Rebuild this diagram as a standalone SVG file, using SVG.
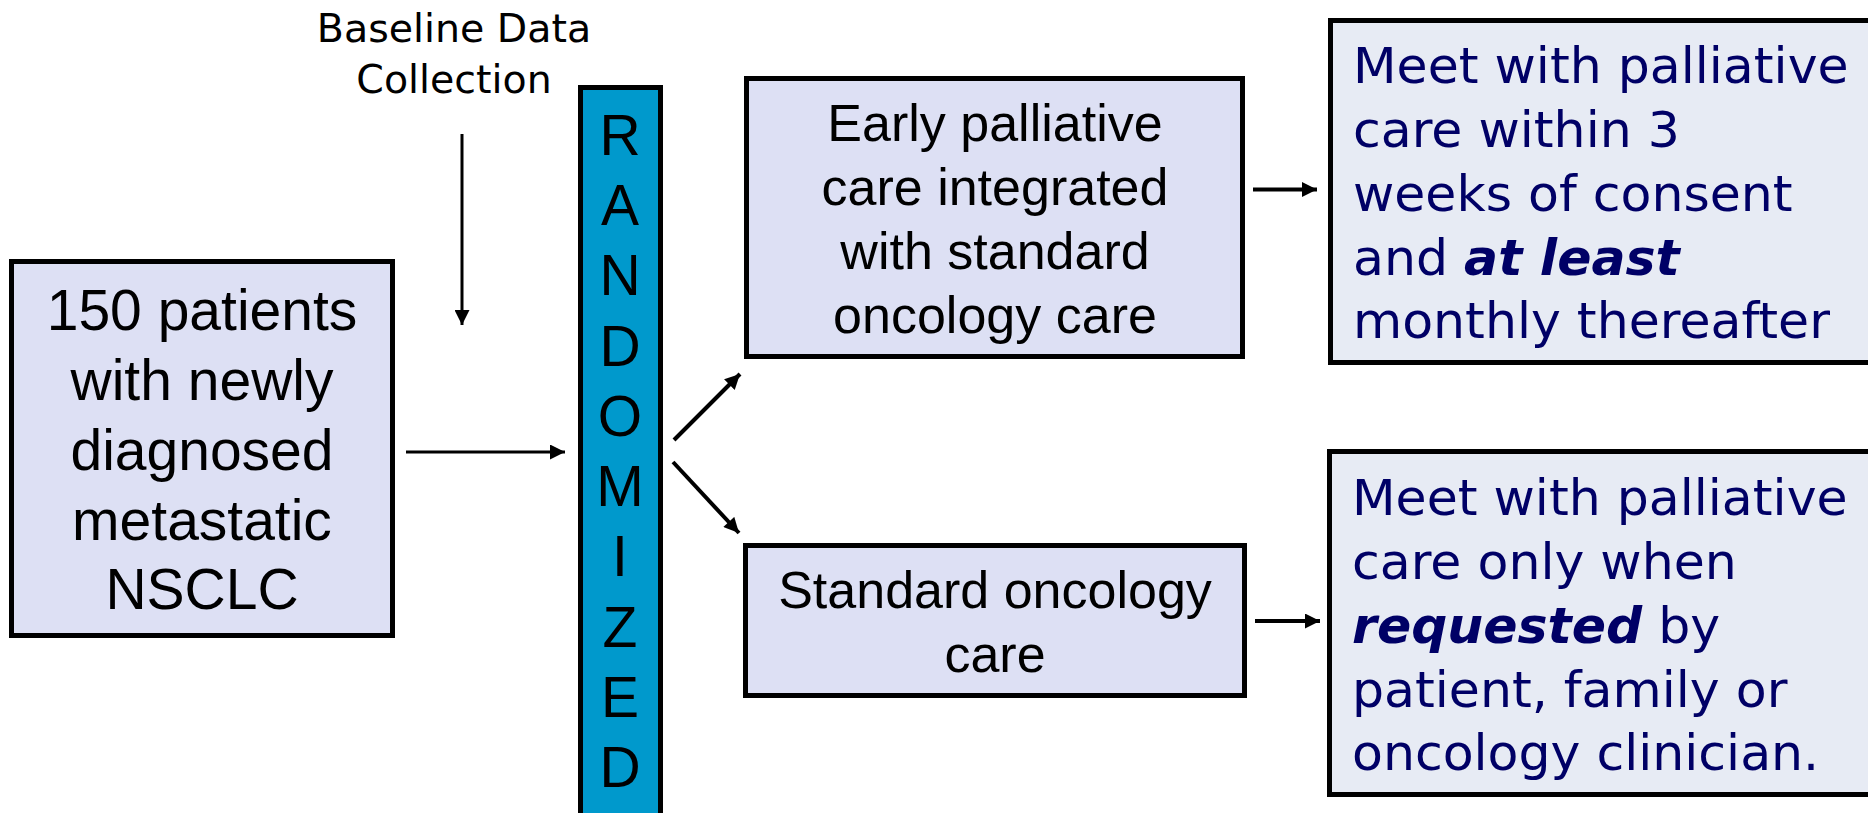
<svg xmlns="http://www.w3.org/2000/svg" width="1868" height="813" viewBox="0 0 1868 813">
  <style>
    .box { fill: #dde0f4; stroke: #000; stroke-width: 5; }
    .note { fill: #e7ebf4; stroke: #000; stroke-width: 5; }
    .bar { fill: #0099cc; stroke: #000; stroke-width: 5; }
    .lbl { font-family: "Liberation Sans", Arial, sans-serif; fill: #000; text-anchor: middle; }
    .big { font-size: 57px; }
    .mid { font-size: 52px; }
    .letter { font-family: "Liberation Sans", Arial, sans-serif; font-size: 57px; fill: #000; text-anchor: middle; }
    .navy { font-family: "DejaVu Sans", Verdana, sans-serif; font-size: 50.5px; fill: #000066; }
    .emph { font-weight: bold; font-style: italic; }
    .cap { font-family: "DejaVu Sans", Verdana, sans-serif; font-size: 39.5px; fill: #000; text-anchor: middle; }
    .link { stroke: #000; stroke-width: 4; fill: none; marker-end: url(#head); }
    .thin { stroke-width: 3; }
  </style>
  <defs>
    <marker id="head" viewBox="0 0 16 16" refX="16" refY="8" markerWidth="16" markerHeight="15" markerUnits="userSpaceOnUse" orient="auto">
      <path d="M0,0 L16,8 L0,16 z" fill="#000"/>
    </marker>
  </defs>

  <rect width="1868" height="813" fill="#fff"/>

  <!-- caption above the randomisation point -->
  <g id="baseline-label">
    <text class="cap" x="454" y="42">Baseline Data</text>
    <text class="cap" x="454" y="93">Collection</text>
  </g>

  <!-- enrolled population -->
  <g id="patients">
    <rect class="box" x="11.5" y="261.5" width="381" height="374"/>
    <text class="lbl big" x="202" y="330">150 patients</text>
    <text class="lbl big" x="202" y="400">with newly</text>
    <text class="lbl big" x="202" y="470">diagnosed</text>
    <text class="lbl big" x="202" y="540">metastatic</text>
    <text class="lbl big" x="202" y="609">NSCLC</text>
  </g>

  <!-- vertical randomisation bar -->
  <g id="randomized">
    <rect class="bar" x="580.5" y="87.5" width="80" height="760"/>
    <text class="letter" x="620" y="155">R</text>
    <text class="letter" x="620" y="225">A</text>
    <text class="letter" x="620" y="295">N</text>
    <text class="letter" x="620" y="366">D</text>
    <text class="letter" x="620" y="436">O</text>
    <text class="letter" x="620" y="506">M</text>
    <text class="letter" x="620" y="576">I</text>
    <text class="letter" x="620" y="647">Z</text>
    <text class="letter" x="620" y="717">E</text>
    <text class="letter" x="620" y="787">D</text>
  </g>

  <!-- intervention arm -->
  <g id="early-arm">
    <rect class="box" x="746.5" y="78.5" width="496" height="278"/>
    <text class="lbl mid" x="995" y="141">Early palliative</text>
    <text class="lbl mid" x="995" y="205">care integrated</text>
    <text class="lbl mid" x="995" y="269">with standard</text>
    <text class="lbl mid" x="995" y="333">oncology care</text>
  </g>

  <!-- control arm -->
  <g id="standard-arm">
    <rect class="box" x="745.5" y="545.5" width="499" height="150"/>
    <text class="lbl mid" x="995" y="608">Standard oncology</text>
    <text class="lbl mid" x="995" y="672">care</text>
  </g>

  <!-- intervention detail -->
  <g id="early-detail">
    <rect class="note" x="1330.5" y="20.5" width="600" height="342"/>
    <text class="navy" x="1353" y="83">Meet with palliative</text>
    <text class="navy" x="1353" y="147">care within 3</text>
    <text class="navy" x="1353" y="211">weeks of consent</text>
    <text class="navy" x="1353" y="275">and <tspan class="emph">at least</tspan></text>
    <text class="navy" x="1353" y="338">monthly thereafter</text>
  </g>

  <!-- control detail -->
  <g id="standard-detail">
    <rect class="note" x="1329.5" y="451.5" width="600" height="343"/>
    <text class="navy" x="1352" y="515">Meet with palliative</text>
    <text class="navy" x="1352" y="579">care only when</text>
    <text class="navy" x="1352" y="643"><tspan class="emph">requested</tspan> by</text>
    <text class="navy" x="1352" y="707">patient, family or</text>
    <text class="navy" x="1352" y="770">oncology clinician.</text>
  </g>

  <g id="connectors">
    <line class="link thin" x1="462" y1="134" x2="462" y2="325"/>
    <line class="link thin" x1="406" y1="452" x2="565" y2="452"/>
    <line class="link" x1="674" y1="440" x2="740" y2="374"/>
    <line class="link" x1="673" y1="462" x2="739" y2="533"/>
    <line class="link" x1="1253" y1="189.5" x2="1317" y2="189.5"/>
    <line class="link" x1="1255" y1="621" x2="1320" y2="621"/>
  </g>
</svg>
